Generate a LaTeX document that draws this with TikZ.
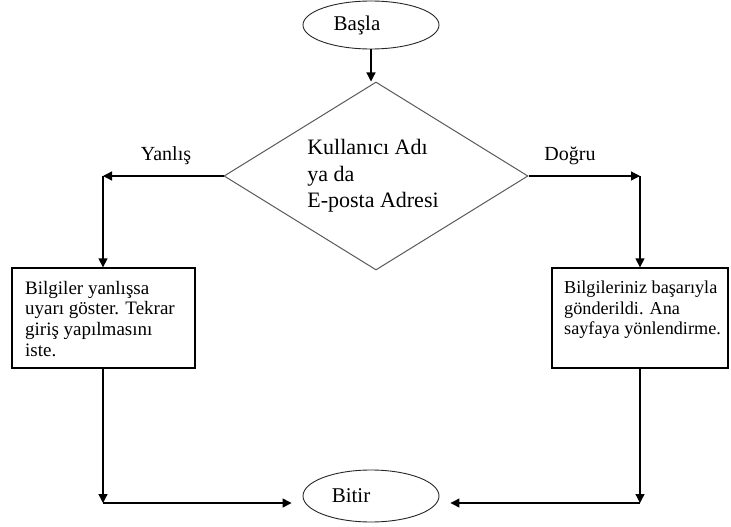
\documentclass[tikz,border=0pt]{standalone}
\usepackage{fontspec}
\setmainfont{Liberation Serif}
\usetikzlibrary{shapes.geometric,arrows.meta}

\begin{document}
\begin{tikzpicture}[x=1pt,y=-1pt,
  flow/.style={line width=1.3pt,-{Triangle[length=9pt,width=9pt]}},
  terminal/.style={ellipse,draw=black!85,line width=0.9pt,minimum width=136pt,
    inner sep=0pt,font=\fontsize{21}{24}\selectfont},
  decision/.style={diamond,draw=black!65,line width=1pt,minimum width=304pt,
    minimum height=188pt,inner sep=0pt},
  msgbox/.style={rectangle,draw,line width=1.3pt,minimum height=100pt,inner sep=0pt},
  boxtext/.style={anchor=north west,align=left,inner sep=0pt,
    font=\fontsize{19}{20.6}\selectfont},
  branch/.style={anchor=base,inner sep=0pt,font=\fontsize{20}{24}\selectfont}
]
\useasboundingbox (0,0) rectangle (731,527);

% start / end terminals (text sits left of centre)
\node[terminal,minimum height=48pt] (start) at (371,25) {Başla\hspace*{28pt}};
\node[terminal,minimum height=52pt] (end) at (371,496) {Bitir\hspace*{40pt}};

% decision
\node[decision] (dec) at (376,176) {};
\node[align=left,inner sep=0pt,font=\fontsize{22}{26.5}\selectfont] (dectext) at (373,176)
  {Kullanıcı Adı\\ya da\\E-posta Adresi};

% outcome boxes
\node[msgbox,minimum width=183pt] (lbox) at (103.5,318) {};
\node[boxtext] (ltext) at (25,281)
  {Bilgiler yanlışsa\\uyarı göster. Tekrar\\giriş yapılmasını\\iste.};
\node[msgbox,minimum width=176pt] (rbox) at (640,318) {};
\node[boxtext,font=\fontsize{18.2}{20.3}\selectfont] (rtext) at (564,281)
  {Bilgileriniz başarıyla\\gönderildi. Ana\\sayfaya yönlendirme.};

% branch labels
\node[branch] (nolabel) at (166,160) {Yanlış};
\node[branch] (yeslabel) at (570,160) {Doğru};

% bends
\coordinate (lturn) at (103,176);
\coordinate (rturn) at (640,176);
\coordinate (lbot) at (103,503);
\coordinate (rbot) at (640,503);

% connectors
\draw[flow] (start.south) -- (start.south |- dec.north);
\draw[flow] (dec.west) -- (lturn);
\draw[flow] (lturn) -- (lturn |- lbox.north);
\draw[flow] (dec.east) -- (rturn);
\draw[flow] (rturn) -- (rbox.north);
\draw[flow] (lturn |- lbox.south) -- (lbot);
\draw[flow] (rbox.south) -- (rbot);
\draw[flow,shorten >=11pt] (lbot) -- (lbot -| end.west);
\draw[flow,shorten >=11pt] (rbot) -- (rbot -| end.east);
\end{tikzpicture}
\end{document}
